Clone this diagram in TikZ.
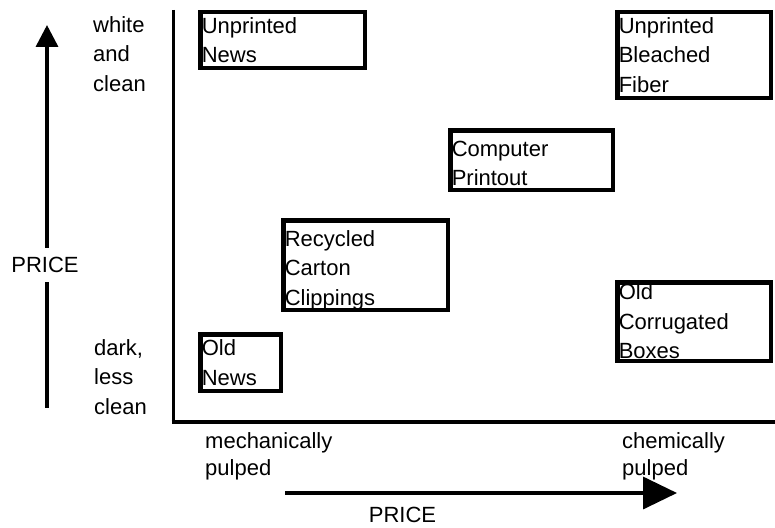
\documentclass[tikz,border=0pt]{standalone}
\usepackage{fontspec}
\setmainfont{Liberation Sans}
\usetikzlibrary{arrows.meta}

\begin{document}
\begin{tikzpicture}[x=1pt,y=-1pt,
  paper/.style={draw, line width=4.5pt, outer sep=0pt, anchor=north west, align=left,
    inner xsep=1.5pt, inner ysep=0pt, font=\fontsize{22}{29.5}\selectfont},
  side label/.style={anchor=north west, align=left, inner sep=0pt, font=\fontsize{22}{29.5}\selectfont},
  foot label/.style={anchor=north west, align=left, inner sep=0pt, font=\fontsize{22}{27.5}\selectfont},
  price/.style={inner xsep=0pt, inner ysep=9.5pt, font=\fontsize{22}{26}\selectfont},
  price arrow/.style={line width=3.5pt}]

  \useasboundingbox (0,0) rectangle (775,527);

  % axes
  \coordinate (ytop) at (173,10);
  \coordinate (origin) at (173,422);
  \coordinate (xend) at (775,422);
  \draw[line width=3pt] (ytop) -- (origin);
  \draw[line width=4.5pt] ([xshift=-1.5pt]origin) -- (xend);

  % paper grades
  \node[paper, text width=161.5pt, minimum height=55.5pt] (unews) at (200.25,12.25) {Unprinted\\News};
  \node[paper, text width=150.5pt, minimum height=85.5pt] (fiber) at (617.25,12.25) {Unprinted\\Bleached\\Fiber};
  \node[paper, text width=159.5pt, minimum height=59.5pt] (printout) at (450.25,130.25) {\rule{0pt}{22pt}Computer\\Printout};
  \node[paper, text width=161.5pt, minimum height=85.5pt] (carton) at (283.25,220.25) {\rule{0pt}{26pt}Recycled\\Carton\\Clippings};
  \node[paper, text width=77.5pt, minimum height=56.5pt] (onews) at (200.25,334.25) {Old\\News};
  \node[paper, text width=150.5pt, minimum height=78.5pt] (boxes) at (617.25,282.25) {Old\\Corrugated\\Boxes};

  % vertical scale
  \node[side label] (white) at (93,16.2) {white\\and\\clean};
  \node[side label] (dark) at (94,339.2) {dark,\\less\\clean};
  \node[price] (yprice) at (45,265) {PRICE};
  \coordinate (ytip) at (47,25);
  \coordinate (ylow) at (47,408);
  \draw[price arrow, -{Triangle[length=22pt,width=22pt]}] (yprice.north -| ytip) -- (ytip);
  \draw[price arrow] (yprice.south -| ylow) -- (ylow);

  % horizontal scale
  \node[foot label] (mech) at (205,432.2) {mechanically\\pulped};
  \node[foot label] (chem) at (622,432.2) {chemically\\pulped};
  \coordinate (xstart) at (285,493);
  \coordinate (xtip) at (677,493);
  \draw[price arrow, -{Triangle[length=34pt,width=32pt]}] (xstart) -- (xtip);
  \node[price, inner ysep=0pt] (xprice) at (402.5,515) {PRICE};
\end{tikzpicture}
\end{document}
